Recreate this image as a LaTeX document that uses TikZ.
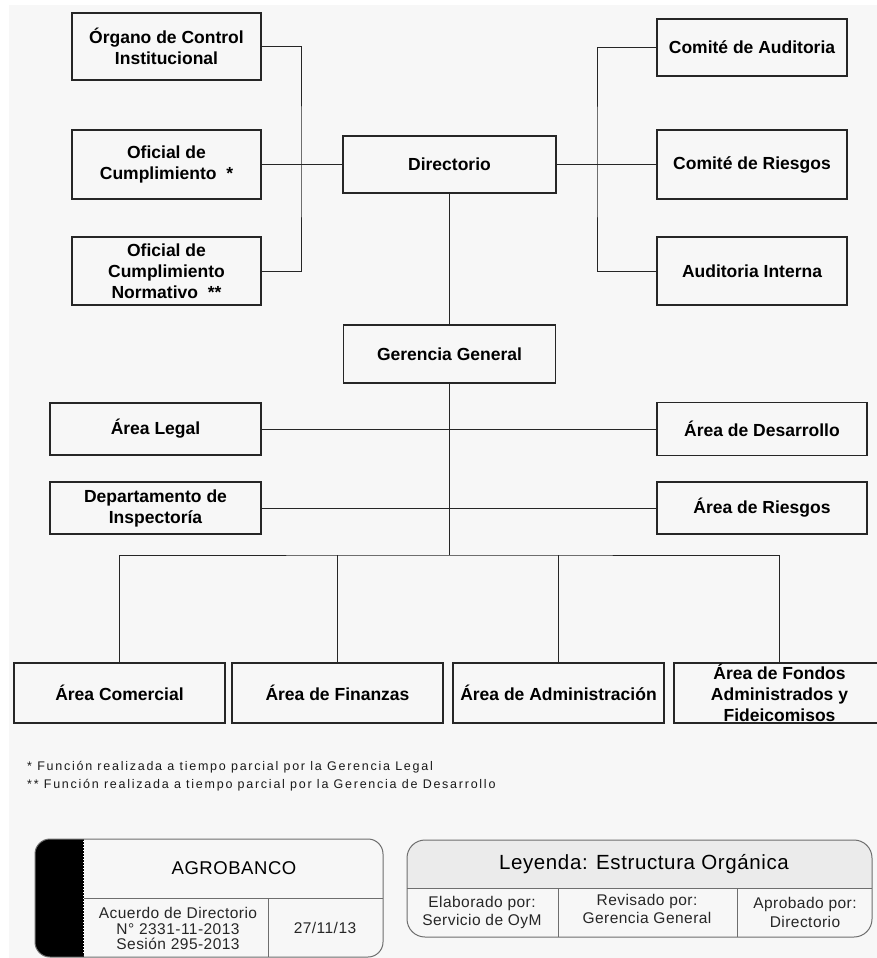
\documentclass[tikz,border=0pt]{standalone}
\usepackage{fontspec}
\setmainfont{Liberation Sans}
\newfontfamily\notefont[LetterSpace=14]{Liberation Sans}
\newfontfamily\legfont[LetterSpace=3]{Liberation Sans}
\usepackage{tikz}
\usetikzlibrary{positioning,calc}
\definecolor{bgray}{HTML}{F7F7F7}
\definecolor{hgray}{HTML}{EBEBEB}
\definecolor{lgray}{HTML}{6E6E6E}

\tikzset{
  unit/.style={draw=black!85, line width=1.1pt, align=center, inner sep=0pt,
    font=\bfseries\fontsize{17.5}{21}\selectfont},
  link/.style={draw=black!85, line width=0.9pt},
  legtext/.style={align=center, inner sep=0pt, text=black!85,
    font=\legfont\fontsize{15.5}{18.5}\selectfont},
  note/.style={anchor=west, inner sep=0pt, text=black!90,
    font=\notefont\fontsize{12.5}{14}\selectfont},
}

\begin{document}
\begin{tikzpicture}[x=1pt,y=-1pt]
    \useasboundingbox (0,0) rectangle (877,958);
    \fill[white] (0,0) rectangle (877,958);
    \fill[bgray] (9,5) rectangle (877,958);

    % Directorio and its committees
    \node[unit, minimum width=189pt, minimum height=67pt] (organo) at (166.5,46.5) {Órgano de Control\\Institucional};
    \node[unit, minimum width=189pt, minimum height=69pt] (oficial) at (166.5,164.5) {Oficial de\\Cumplimiento \ *};
    \node[unit, minimum width=189pt, minimum height=68pt] (normativo) at (166.5,271) {Oficial de\\Cumplimiento\\Normativo \ **};
    \node[unit, minimum width=213pt, minimum height=57pt] (directorio) at (449.5,164.5) {Directorio};
    \node[unit, minimum width=190pt, minimum height=57pt] (auditoria) at (752,47.5) {Comité de Auditoria};
    \node[unit, minimum width=190pt, minimum height=69pt] (criesgos) at (752,164.5) {Comité de Riesgos};
    \node[unit, minimum width=190pt, minimum height=68pt] (interna) at (752,271) {Auditoria Interna};

    \coordinate (lbus) at (301,164.5);
    \coordinate (rbus) at (597,164.5);
    \draw[link] (organo.east) -| (lbus) |- (normativo.east);
    \draw[link] (oficial.east) -- (directorio.west);
    \draw[link] (auditoria.west) -| (rbus) |- (interna.west);
    \draw[link] (directorio.east) -- (criesgos.west);

    % Gerencia General and staff areas
    \node[unit, minimum width=212pt, minimum height=58pt] (gerencia) at (449.5,354) {Gerencia General};
    \node[unit, minimum width=211pt, minimum height=52pt] (legal) at (155.5,429) {Área Legal};
    \node[unit, minimum width=210pt, minimum height=53pt] (desarrollo) at (762,429) {Área de Desarrollo};
    \node[unit, minimum width=211pt, minimum height=52pt] (inspectoria) at (155.5,508) {Departamento de\\Inspectoría};
    \node[unit, minimum width=210pt, minimum height=52pt] (ariesgos) at (762,508) {Área de Riesgos};

    \coordinate (hub) at (449.5,555);
    \draw[link] (directorio.south) -- (gerencia.north);
    \draw[link] (gerencia.south) -- (hub);
    \draw[link] (legal.east) -- (desarrollo.west);
    \draw[link] (inspectoria.east) -- (ariesgos.west);

    % Line areas
    \node[unit, minimum width=211pt, minimum height=60pt] (comercial) at (119.5,693) {Área Comercial};
    \node[unit, minimum width=211pt, minimum height=60pt] (finanzas) at (337.5,693) {Área de Finanzas};
    \node[unit, minimum width=211pt, minimum height=60pt] (administracion) at (558.5,693) {Área de Administración};
    \node[unit, minimum width=211pt, minimum height=60pt] (fondos) at (779.5,693) {};
    \node[unit, draw=none] (fondostext) at (fondos.center) {Área de Fondos\\Administrados y\\Fideicomisos};

    \draw[link] (comercial.north) |- (hub) -| (fondos.north);
    \foreach \n in {finanzas,administracion}
        \draw[link] (\n.north) -- (\n.north |- hub);

    % Notes
    \node[note] (nota1) at (27,767) {* Función realizada a tiempo parcial por la Gerencia Legal};
    \node[note] (nota2) at (27,785) {** Función realizada a tiempo parcial por la Gerencia de Desarrollo};

    % AGROBANCO block
    \begin{scope}
        \clip[rounded corners=15pt] (35,839) rectangle (383,957);
        \fill[black] (35,839) rectangle (84,957);
    \end{scope}
    \draw[white, dotted, line width=1pt] (83,841) -- (83,955);
    \draw[lgray, line width=1pt, rounded corners=15pt] (35,839) rectangle (383,957);
    \draw[lgray, line width=1pt] (84,898) -- (383,898);
    \draw[lgray, line width=1pt] (268,898) -- (268,957);
    \node[legtext, text=black, font=\legfont\fontsize{18.5}{21}\selectfont] (banco) at (234,868) {AGROBANCO};
    \node[legtext, font=\legfont\fontsize{15.5}{15.5}\selectfont] (acuerdo) at (178,928.5) {Acuerdo de Directorio\\N° 2331-11-2013\\Sesión 295-2013};
    \node[legtext] (fecha) at (325,928) {27/11/13};

    % Leyenda block
    \begin{scope}
        \clip[rounded corners=18pt] (407,840) rectangle (872,937);
        \fill[hgray] (407,840) rectangle (872,888);
    \end{scope}
    \draw[lgray, line width=1pt, rounded corners=18pt] (407,840) rectangle (872,937);
    \draw[lgray, line width=1pt] (407,888) -- (872,888);
    \draw[lgray, line width=1pt] (558,888) -- (558,937);
    \draw[lgray, line width=1pt] (737,888) -- (737,937);
    \node[legtext, text=black, font=\legfont\fontsize{20.5}{24}\selectfont] (leyenda) at (644,864) {Leyenda: Estructura Orgánica};
    \node[legtext] (elaborado) at (482,912.5) {Elaborado por:\\Servicio de OyM};
    \node[legtext] (revisado) at (647,909) {Revisado por:\\Gerencia General};
    \node[legtext] (aprobado) at (805,912.5) {Aprobado por:\\Directorio};
\end{tikzpicture}
\end{document}
